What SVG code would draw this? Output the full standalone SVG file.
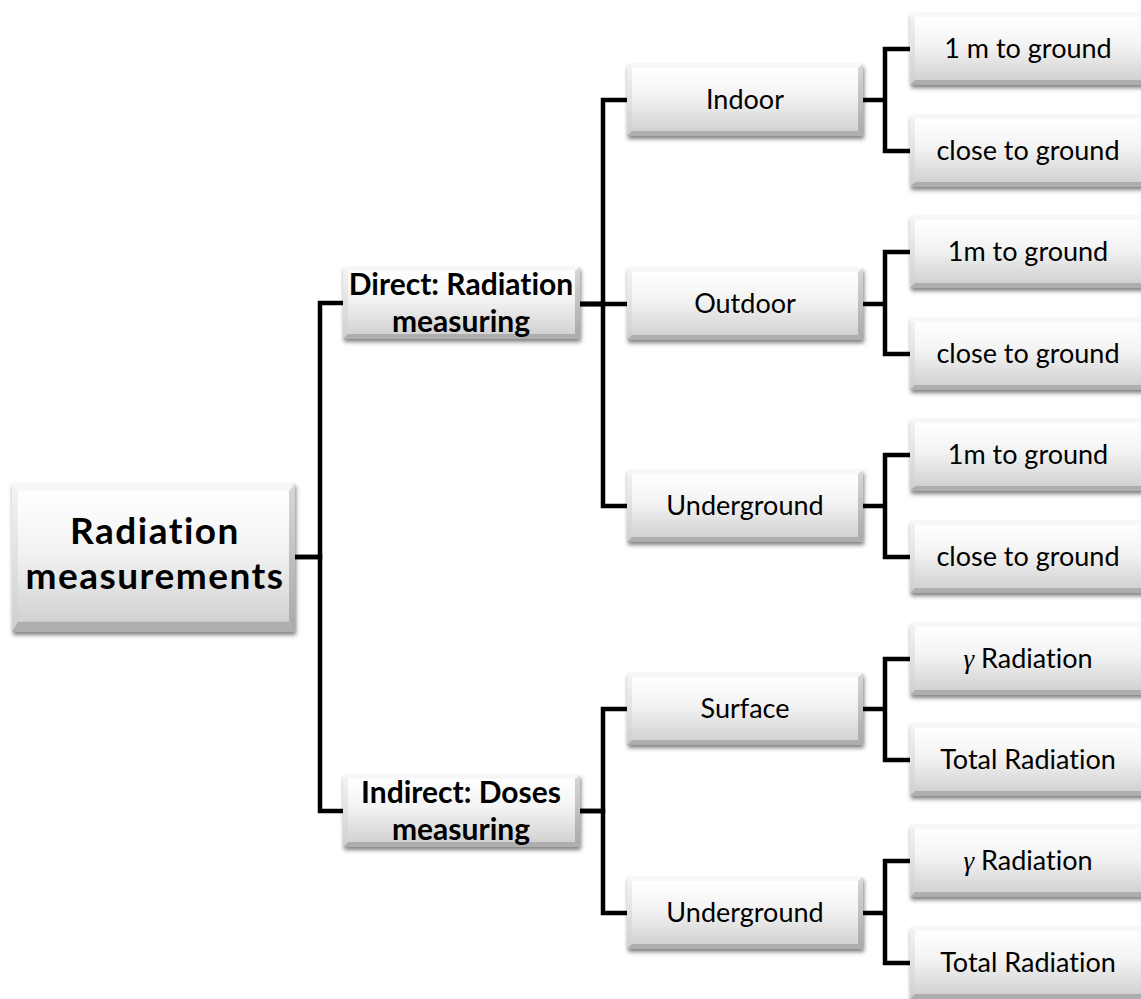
<svg xmlns="http://www.w3.org/2000/svg" xmlns:xlink="http://www.w3.org/1999/xlink" width="1141" height="999" viewBox="0 0 1141 999">
<style>
text{font-variant-ligatures:none;font-feature-settings:"liga" 0,"dlig" 0}
.t{font-family:Lato,"Liberation Sans",sans-serif;font-size:27px;fill:#000;text-anchor:middle}
.b{font-family:Lato,"Liberation Sans",sans-serif;font-size:30px;font-weight:bold;fill:#000;text-anchor:middle}
.r{font-family:Lato,"Liberation Sans",sans-serif;font-size:37px;font-weight:bold;letter-spacing:1.5px;fill:#000;text-anchor:middle}
.g{font-family:"Liberation Serif",serif;font-style:italic}
.c{fill:none;stroke:#000;stroke-width:4.5;stroke-linejoin:miter;stroke-linecap:butt}
</style>
<defs>
<linearGradient id="face" x1="0" y1="0" x2="0" y2="1">
<stop offset="0" stop-color="#ffffff"/>
<stop offset="0.45" stop-color="#f3f3f3"/>
<stop offset="1" stop-color="#d2d2d2"/>
</linearGradient>
<linearGradient id="lft" x1="0" y1="0" x2="0" y2="1">
<stop offset="0" stop-color="#f4f4f4"/>
<stop offset="1" stop-color="#cfcfcf"/>
</linearGradient>
<linearGradient id="rgt" x1="0" y1="0" x2="0" y2="1">
<stop offset="0" stop-color="#d8d8d8"/>
<stop offset="1" stop-color="#a8a8a8"/>
</linearGradient>
<filter id="sh" x="-10%" y="-20%" width="125%" height="150%">
<feDropShadow dx="1" dy="3" stdDeviation="2" flood-color="#000" flood-opacity="0.5"/>
</filter>
<symbol id="bx" viewBox="0 0 236 72" preserveAspectRatio="none">
<rect x="0" y="0" width="236" height="72" fill="url(#face)"/>
<rect x="5" y="4" width="226" height="63" fill="url(#face)"/>
<polygon points="0,0 236,0 231,4 5,4" fill="#f7f7f7"/>
<polygon points="0,0 5,4 5,67 0,72" fill="url(#lft)"/>
<polygon points="236,0 236,72 231,67 231,4" fill="url(#rgt)"/>
<polygon points="0,72 236,72 231,67 5,67" fill="#aeaeae"/>
</symbol>
</defs>
<rect width="1141" height="999" fill="#fff"/>

<g id="connectors">
<path class="c" d="M295,557 H320 V303 H343"/>
<path class="c" d="M295,557 H320 V811 H343"/>
<path class="c" d="M580,304 H603 V100 H627"/>
<path class="c" d="M580,304 H627"/>
<path class="c" d="M580,304 H603 V506 H627"/>
<path class="c" d="M580,811 H603 V709 H627"/>
<path class="c" d="M580,811 H603 V913 H627"/>
<path class="c" d="M863,100 H885 V49 H910 M885,100 V151 H910"/>
<path class="c" d="M863,304 H885 V252 H910 M885,304 V354 H910"/>
<path class="c" d="M863,506 H885 V455 H910 M885,506 V557 H910"/>
<path class="c" d="M863,709 H885 V659 H910 M885,709 V760 H910"/>
<path class="c" d="M863,913 H885 V861 H910 M885,913 V963 H910"/>
</g>

<g id="root"><use href="#bx" x="12" y="483" width="283" height="149" filter="url(#sh)"/>
<text class="r" x="155" y="544">Radiation</text><text class="r" x="155" y="589">measurements</text></g>

<g id="direct"><use href="#bx" x="343" y="267" width="237" height="72" filter="url(#sh)"/>
<text class="b" x="461" y="295">Direct: Radiation</text><text class="b" x="461" y="332">measuring</text></g>
<g id="indirect"><use href="#bx" x="343" y="775" width="237" height="72" filter="url(#sh)"/>
<text class="b" x="461" y="803">Indirect: Doses</text><text class="b" x="461" y="840">measuring</text></g>

<g id="indoor"><use href="#bx" x="627" y="64" width="236" height="72" filter="url(#sh)"/><text class="t" x="745" y="109">Indoor</text></g>
<g id="outdoor"><use href="#bx" x="627" y="268" width="236" height="72" filter="url(#sh)"/><text class="t" x="745" y="313">Outdoor</text></g>
<g id="underground1"><use href="#bx" x="627" y="470" width="236" height="72" filter="url(#sh)"/><text class="t" x="745" y="515">Underground</text></g>
<g id="surface"><use href="#bx" x="627" y="673" width="236" height="72" filter="url(#sh)"/><text class="t" x="745" y="718">Surface</text></g>
<g id="underground2"><use href="#bx" x="627" y="877" width="236" height="72" filter="url(#sh)"/><text class="t" x="745" y="922">Underground</text></g>

<g id="indoor-1m"><use href="#bx" x="910" y="13" width="236" height="72" filter="url(#sh)"/><text class="t" x="1028" y="58">1 m to ground</text></g>
<g id="indoor-close"><use href="#bx" x="910" y="115" width="236" height="72" filter="url(#sh)"/><text class="t" x="1028" y="160">close to ground</text></g>
<g id="outdoor-1m"><use href="#bx" x="910" y="216" width="236" height="72" filter="url(#sh)"/><text class="t" x="1028" y="261">1m to ground</text></g>
<g id="outdoor-close"><use href="#bx" x="910" y="318" width="236" height="72" filter="url(#sh)"/><text class="t" x="1028" y="363">close to ground</text></g>
<g id="under-1m"><use href="#bx" x="910" y="419" width="236" height="72" filter="url(#sh)"/><text class="t" x="1028" y="464">1m to ground</text></g>
<g id="under-close"><use href="#bx" x="910" y="521" width="236" height="72" filter="url(#sh)"/><text class="t" x="1028" y="566">close to ground</text></g>
<g id="surface-gamma"><use href="#bx" x="910" y="623" width="236" height="72" filter="url(#sh)"/><text class="t" x="1028" y="668"><tspan class="g">γ</tspan> Radiation</text></g>
<g id="surface-total"><use href="#bx" x="910" y="724" width="236" height="72" filter="url(#sh)"/><text class="t" x="1028" y="769">Total Radiation</text></g>
<g id="under2-gamma"><use href="#bx" x="910" y="825" width="236" height="72" filter="url(#sh)"/><text class="t" x="1028" y="870"><tspan class="g">γ</tspan> Radiation</text></g>
<g id="under2-total"><use href="#bx" x="910" y="927" width="236" height="72" filter="url(#sh)"/><text class="t" x="1028" y="972">Total Radiation</text></g>
</svg>
